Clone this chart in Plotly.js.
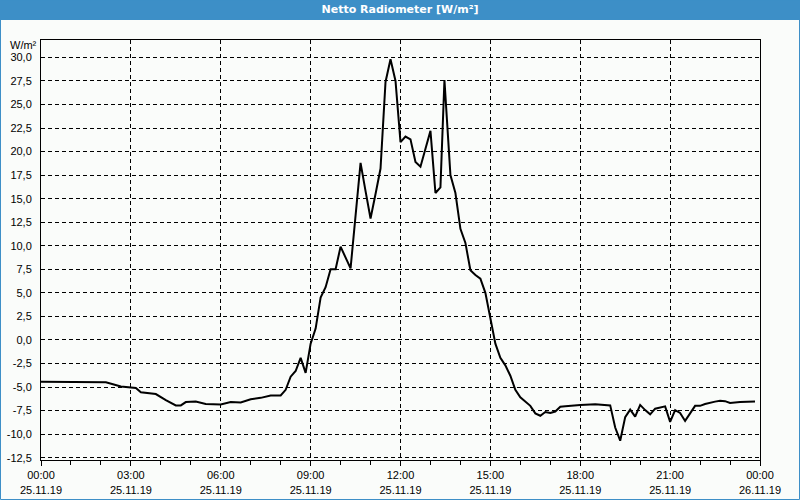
<!DOCTYPE html>
<html>
<head>
<meta charset="utf-8">
<script src="https://cdn.plot.ly/plotly-3.0.1.min.js"></script>
<style>html,body{margin:0;padding:0;background:#fafcfa;}#chart{width:800px;height:500px;}</style>
</head>
<body>
<div id="chart"></div>
<script>
const day = '2019-11-25';
const times = ['00:00','02:10','02:40','03:10','03:20','03:50','04:10','04:30','04:40','04:50','05:10','05:30','06:00','06:20','06:40','07:00','07:20','07:40','08:00',
  '08:10','08:20','08:30','08:40','08:50','09:00','09:10','09:20','09:30','09:40','09:50','10:00','10:10','10:20','10:30','10:40','10:50','11:00','11:10','11:20','11:30','11:40','11:50',
  '12:00','12:10','12:20','12:30','12:40','12:50','13:00','13:10','13:20','13:28','13:40','13:50','14:00','14:10','14:20','14:30','14:40','14:50','15:00','15:10','15:20','15:30','15:40','15:50',
  '16:00','16:10','16:20','16:30','16:40','16:50','17:00','17:10','17:20','17:30','17:40','18:00','18:30','19:00','19:10','19:20','19:30','19:40','19:50','20:00','20:10','20:20','20:30','20:40','20:50',
  '21:00','21:10','21:20','21:30','21:40','21:50','22:00','22:10','22:30','22:40','22:50','23:00','23:20','23:50'];
const values = [-4.45,-4.5,-4.95,-5.1,-5.55,-5.75,-6.4,-6.95,-6.95,-6.6,-6.55,-6.8,-6.85,-6.6,-6.65,-6.3,-6.15,-5.9,-5.9,
  -5.3,-3.9,-3.3,-1.9,-3.5,-0.4,1.2,4.5,5.6,7.5,7.5,9.9,8.8,7.6,13.2,18.8,15.8,12.9,15.5,18.2,27.4,29.8,27.5,
  21.0,21.6,21.3,18.9,18.4,20.3,22.2,15.6,16.2,27.6,17.5,15.6,11.8,10.3,7.4,6.9,6.5,5.0,2.4,-0.4,-1.9,-2.7,-3.8,-5.3,
  -6.1,-6.6,-7.0,-7.8,-8.05,-7.65,-7.75,-7.6,-7.1,-7.05,-7.0,-6.9,-6.84,-6.95,-9.3,-10.7,-8.2,-7.4,-8.15,-6.9,-7.45,-7.9,-7.3,-7.2,-7.05,
  -8.7,-7.45,-7.75,-8.6,-7.8,-7.0,-7.0,-6.8,-6.55,-6.45,-6.5,-6.7,-6.6,-6.55];
const xTickVals = ['2019-11-25 00:00','2019-11-25 03:00','2019-11-25 06:00','2019-11-25 09:00','2019-11-25 12:00','2019-11-25 15:00','2019-11-25 18:00','2019-11-25 21:00','2019-11-26 00:00'];
const xTickText = ['00:00<br>25.11.19','03:00<br>25.11.19','06:00<br>25.11.19','09:00<br>25.11.19','12:00<br>25.11.19','15:00<br>25.11.19','18:00<br>25.11.19','21:00<br>25.11.19','00:00<br>26.11.19'];
const yTickVals = [-12.5,-10,-7.5,-5,-2.5,0,2.5,5,7.5,10,12.5,15,17.5,20,22.5,25,27.5,30];
const yTickText = ['-12,5','-10,0','-7,5','-5,0','-2,5','0,0','2,5','5,0','7,5','10,0','12,5','15,0','17,5','20,0','22,5','25,0','27,5','30,0'];
const titleText = 'Netto Radiometer [W/m²]';
const unitText = 'W/m²';

const x = times.map(t => day + ' ' + t);
const blue = '#3d8fc7';
const font = {family: 'Liberation Sans, Arial, sans-serif', size: 11, color: '#000'};
const W = 719, H = 420, L = 41, B = 40;

Plotly.newPlot('chart', [{
  x: x, y: values, type: 'scatter', mode: 'lines',
  line: {color: '#000', width: 2}, hoverinfo: 'skip'
}], {
  width: 800, height: 500,
  margin: {l: L, r: 40, t: 40, b: B, pad: 0},
  paper_bgcolor: '#fafcfa', plot_bgcolor: '#fafcfa',
  font: font, showlegend: false,
  title: {text: '<b>' + titleText + '</b>', x: 0.5, xref: 'container', y: 0.981, yref: 'container', yanchor: 'middle',
          font: {family: 'DejaVu Sans, sans-serif', size: 11, color: '#fff'}},
  xaxis: {
    type: 'date', range: ['2019-11-25 00:00', '2019-11-26 00:00'],
    tickmode: 'array', tickvals: xTickVals, ticktext: xTickText,
    ticks: 'outside', ticklen: 5, tickcolor: '#000', tickwidth: 1,
    minor: {dtick: 3600000, ticks: 'outside', ticklen: 4, tickcolor: '#000', showgrid: false},
    showgrid: true, gridcolor: '#000', gridwidth: 1, griddash: '4px,3px',
    showline: true, linecolor: '#000', linewidth: 1, mirror: true, zeroline: false,
    tickfont: font
  },
  yaxis: {
    range: [-12.75, 31.85],
    tickmode: 'array', tickvals: yTickVals, ticktext: yTickText,
    ticks: '', ticklabelstandoff: 6,
    showgrid: true, gridcolor: '#000', gridwidth: 1, griddash: '4px,3px',
    showline: true, linecolor: '#000', linewidth: 1, mirror: true, zeroline: false,
    tickfont: font
  },
  annotations: [{text: unitText, xref: 'paper', yref: 'paper', x: (23 - L) / W, y: (460 - 45) / H,
    xanchor: 'center', yanchor: 'middle', showarrow: false, font: font}],
  shapes: [
    {type: 'rect', xref: 'paper', yref: 'paper', x0: -L / W, x1: 800 - L > 0 ? (800 - L) / W : 1, y0: (460 - 20) / H, y1: 460 / H,
     fillcolor: blue, line: {width: 0}, layer: 'below'},
    {type: 'rect', xref: 'paper', yref: 'paper', x0: (0.5 - L) / W, x1: (799.5 - L) / W, y0: -(B - 0.5) / H, y1: 460 / H,
     fillcolor: 'rgba(0,0,0,0)', line: {color: blue, width: 1}, layer: 'below'}
  ]
}, {staticPlot: true});
</script>
</body>
</html>
